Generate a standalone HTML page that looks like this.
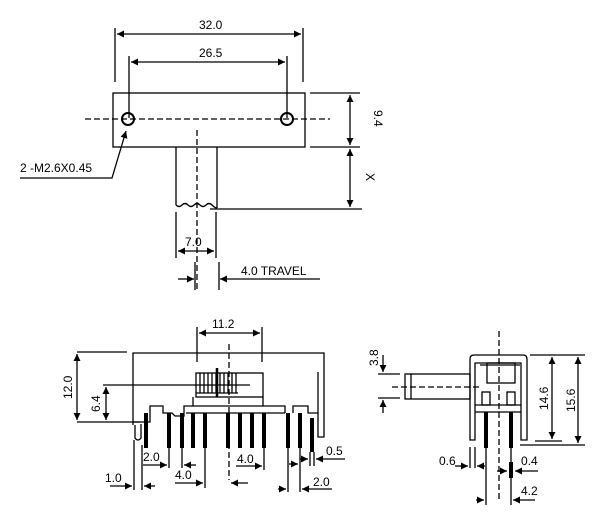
<!DOCTYPE html>
<html><head><style>
html,body{margin:0;padding:0;background:#fff;}
svg{display:block}
text{font-family:"Liberation Sans",sans-serif;font-size:12px;fill:#000}
</style></head><body>
<svg width="600" height="518" viewBox="0 0 600 518" xmlns="http://www.w3.org/2000/svg">
<defs>
<marker id="a" viewBox="0 0 10 10" refX="10" refY="5" markerWidth="9" markerHeight="7" orient="auto-start-reverse" markerUnits="userSpaceOnUse"><path d="M0,0 L10,5 L0,10 z" fill="#000"/></marker>
</defs>
<g stroke="#000" stroke-width="1.3" fill="none">
<!-- TOP VIEW -->
<rect x="113" y="93" width="192" height="54"/>
<circle cx="128" cy="119" r="6" stroke-width="2"/>
<circle cx="287" cy="119" r="6" stroke-width="2"/>
<line x1="85" y1="119" x2="330" y2="119" stroke-dasharray="6,3"/>
<line x1="197" y1="130" x2="197" y2="292" stroke-dasharray="6,3"/>
<line x1="115" y1="28" x2="115" y2="82"/>
<line x1="303" y1="28" x2="303" y2="82"/>
<line x1="117" y1="34" x2="301" y2="34" marker-start="url(#a)" marker-end="url(#a)"/>
<line x1="129" y1="56" x2="129" y2="118"/>
<line x1="287" y1="56" x2="287" y2="118"/>
<line x1="131" y1="62" x2="285" y2="62" marker-start="url(#a)" marker-end="url(#a)"/>
<path d="M176,147 V205 M217,147 V208"/>
<path d="M176,205 q3,3 6,0 t6,0 t6,0 t6,0 t6,0 t6,0 t5,3"/>
<line x1="310" y1="93" x2="360" y2="93"/>
<line x1="310" y1="147" x2="360" y2="147"/>
<line x1="350" y1="95" x2="350" y2="145" marker-start="url(#a)" marker-end="url(#a)"/>
<line x1="350" y1="149" x2="350" y2="207" marker-start="url(#a)" marker-end="url(#a)"/>
<line x1="210" y1="209" x2="362" y2="209"/>
<line x1="176" y1="212" x2="176" y2="258"/>
<line x1="216" y1="212" x2="216" y2="258"/>
<line x1="178" y1="251" x2="214" y2="251" marker-start="url(#a)" marker-end="url(#a)"/>
<line x1="195" y1="262" x2="195" y2="290"/>
<line x1="219" y1="262" x2="219" y2="290"/>
<line x1="178" y1="279" x2="194" y2="279" marker-end="url(#a)"/>
<line x1="320" y1="279" x2="220" y2="279" marker-end="url(#a)"/>
<polyline points="20,178 112,178 126,131" marker-end="url(#a)"/>

<!-- FRONT VIEW -->
<path d="M133,425 V353 H324 V437 H318 V372"/>
<line x1="77" y1="352" x2="127" y2="352"/>
<line x1="77" y1="422" x2="140" y2="422"/>
<line x1="77" y1="354" x2="77" y2="420" marker-start="url(#a)" marker-end="url(#a)"/>
<line x1="103" y1="385" x2="250" y2="385"/>
<line x1="106" y1="387" x2="106" y2="420" marker-start="url(#a)" marker-end="url(#a)"/>
<line x1="197" y1="327" x2="197" y2="362"/>
<line x1="262" y1="327" x2="262" y2="362"/>
<line x1="199" y1="333" x2="260" y2="333" marker-start="url(#a)" marker-end="url(#a)"/>
<line x1="229" y1="344" x2="229" y2="480" stroke-dasharray="6,3"/>
<rect x="196" y="373" width="67" height="24"/>
<path d="M200,373V393M204,373V393M208,373V393M212,373V393M216,373V393M220,373V393M224,373V393M228,373V393M232,373V393M236,373V393M196,393H238"/>
<line x1="217" y1="368" x2="217" y2="397" stroke-width="2.5"/>
<path d="M133,422 H150 V406 H163 V413 H172 L175,416 H184 V406 H285 V413"/>
<path d="M186,413 H285 M193,406 V397 M263,397 V406"/>
<path d="M293,413 V406 H308 V413 H318"/>
<path d="M135,425 V438 q3,4 6,0 V424"/>
<line x1="134" y1="440" x2="134" y2="490"/>
<line x1="142" y1="445" x2="142" y2="490"/>
<line x1="110" y1="486" x2="132" y2="486" marker-end="url(#a)"/>
<line x1="155" y1="486" x2="144" y2="486" marker-end="url(#a)"/>
<line x1="143" y1="465" x2="167" y2="465" marker-end="url(#a)"/>
<line x1="169" y1="448" x2="169" y2="468"/>
<line x1="182" y1="448" x2="182" y2="468"/>
<line x1="196" y1="465" x2="184" y2="465" marker-end="url(#a)"/>
<line x1="205" y1="448" x2="205" y2="488"/>
<line x1="175" y1="483" x2="203" y2="483" marker-end="url(#a)"/>
<line x1="248" y1="483" x2="231" y2="483" marker-end="url(#a)"/>
<line x1="264" y1="448" x2="264" y2="470"/>
<line x1="236" y1="466" x2="262" y2="466" marker-end="url(#a)"/>
<line x1="288" y1="448" x2="288" y2="492"/>
<line x1="300" y1="448" x2="300" y2="492"/>
<line x1="278" y1="489" x2="286" y2="489" marker-end="url(#a)"/>
<line x1="332" y1="489" x2="302" y2="489" marker-end="url(#a)"/>
<line x1="289" y1="464" x2="298" y2="464" marker-end="url(#a)"/>
<line x1="310" y1="452" x2="310" y2="466"/>
<line x1="314" y1="452" x2="314" y2="466"/>
<line x1="300" y1="459" x2="308" y2="459" marker-end="url(#a)"/>
<line x1="345" y1="459" x2="316" y2="459" marker-end="url(#a)"/>

<!-- SIDE VIEW -->
<path d="M470,440 V359 q0,-4 4,-4 H523 q4,0 4,4 V440 H521 V363 H475 V440 Z"/>
<rect x="487" y="363" width="28" height="20"/>
<path d="M480,365 H520 M475,405 H521 M475,412 H521"/>
<rect x="405" y="374" width="65" height="25"/>
<line x1="411" y1="374" x2="411" y2="399"/>
<line x1="392" y1="387" x2="482" y2="387" stroke-dasharray="6,3"/>
<line x1="499" y1="331" x2="499" y2="502" stroke-dasharray="6,3"/>
<rect x="482" y="392" width="8" height="13"/>
<rect x="507" y="392" width="8" height="13"/>
<line x1="378" y1="374" x2="400" y2="374"/>
<line x1="378" y1="398" x2="400" y2="398"/>
<line x1="383" y1="355" x2="383" y2="372" marker-end="url(#a)"/>
<line x1="383" y1="413" x2="383" y2="400" marker-end="url(#a)"/>
<line x1="530" y1="355" x2="585" y2="355"/>
<line x1="535" y1="441" x2="562" y2="441"/>
<line x1="520" y1="445" x2="585" y2="445"/>
<line x1="552" y1="357" x2="552" y2="439" marker-start="url(#a)" marker-end="url(#a)"/>
<line x1="578" y1="357" x2="578" y2="443" marker-start="url(#a)" marker-end="url(#a)"/>
<line x1="470" y1="447" x2="470" y2="468"/>
<line x1="475" y1="447" x2="475" y2="468"/>
<line x1="455" y1="466" x2="468" y2="466" marker-end="url(#a)"/>
<line x1="485" y1="466" x2="477" y2="466" marker-end="url(#a)"/>
<line x1="486" y1="448" x2="486" y2="505"/>
<line x1="511" y1="448" x2="511" y2="505"/>
<line x1="476" y1="500" x2="484" y2="500" marker-end="url(#a)"/>
<line x1="535" y1="500" x2="513" y2="500" marker-end="url(#a)"/>
<line x1="497" y1="471" x2="507" y2="471" marker-end="url(#a)"/>
<line x1="538" y1="471" x2="515" y2="471" marker-end="url(#a)"/>
</g>
<g fill="#000">
<rect x="144" y="413" width="4" height="35"/>
<rect x="167" y="413" width="4" height="35"/>
<rect x="180" y="413" width="4" height="35"/>
<rect x="191" y="413" width="4" height="35"/>
<rect x="203" y="413" width="4" height="35"/>
<rect x="226" y="413" width="4" height="35"/>
<rect x="238" y="413" width="4" height="35"/>
<rect x="250" y="413" width="4" height="35"/>
<rect x="262" y="413" width="4" height="35"/>
<rect x="286" y="413" width="4" height="35"/>
<rect x="298" y="413" width="4" height="35"/>
<rect x="310" y="418" width="4" height="34"/>
<rect x="484" y="412" width="4" height="36"/>
<rect x="509" y="412" width="4" height="36"/>
<rect x="509" y="462" width="4" height="16"/>
</g>
<text x="199" y="29">32.0</text>
<text x="199" y="57">26.5</text>
<text x="20" y="172">2 -M2.6X0.45</text>
<text x="185" y="246">7.0</text>
<text x="241" y="275">4.0  TRAVEL</text>
<text transform="translate(374,120) rotate(90)" x="-10" y="0">9.4</text>
<text transform="translate(366,178) rotate(90)" x="-5" y="0">X</text>
<text x="212" y="328">11.2</text>
<text transform="translate(72,387) rotate(-90)" x="-12" y="0">12.0</text>
<text transform="translate(100,403) rotate(-90)" x="-9" y="0">6.4</text>
<text x="143" y="461">2.0</text>
<text x="175" y="479">4.0</text>
<text x="105" y="482">1.0</text>
<text x="237" y="463">4.0</text>
<text x="326" y="455">0.5</text>
<text x="313" y="486">2.0</text>
<text transform="translate(378,356) rotate(-90)" x="-10" y="0">3.8</text>
<text transform="translate(548,398) rotate(-90)" x="-12" y="0">14.6</text>
<text transform="translate(575,400) rotate(-90)" x="-12" y="0">15.6</text>
<text x="439" y="465">0.6</text>
<text x="521" y="465">0.4</text>
<text x="521" y="495">4.2</text>
</svg>
</body></html>
